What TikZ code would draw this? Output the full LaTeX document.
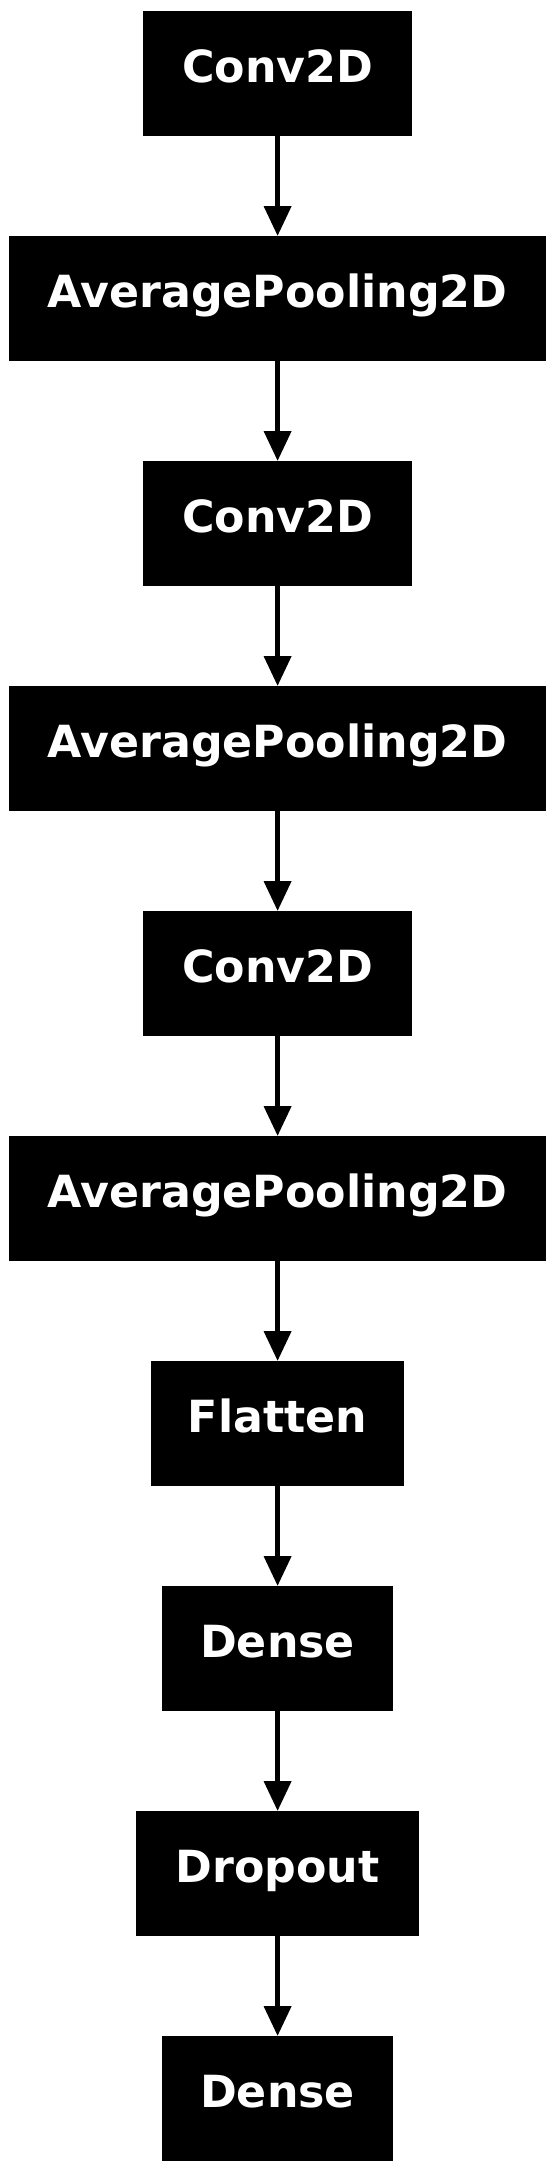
\documentclass[tikz,border=0pt]{standalone}
\usepackage{fontspec}
\newfontfamily\dvsans{DejaVu Sans}
\usetikzlibrary{arrows.meta}
\tikzset{
  layer/.style={fill=black, draw=none, inner sep=0pt, outer sep=0pt, anchor=north,
    text=white, font=\dvsans\bfseries\fontsize{44.3}{52}\selectfont,
    text height=71pt, text depth=54pt, align=center},
  link/.style={line width=5pt, -{Triangle[width=26.7pt,length=30pt]}}
}
\begin{document}
\begin{tikzpicture}[x=1pt,y=1pt]
\useasboundingbox (0,0) rectangle (556,-2172);
\node[layer, minimum width=269.7pt] (n1) at (277.6,-11) {Conv2D};
\node[layer, minimum width=536.4pt] (n2) at (277.6,-236) {AveragePooling2D};
\node[layer, minimum width=269.7pt] (n3) at (277.6,-461) {Conv2D};
\node[layer, minimum width=536.4pt] (n4) at (277.6,-686) {AveragePooling2D};
\node[layer, minimum width=269.7pt] (n5) at (277.6,-911) {Conv2D};
\node[layer, minimum width=536.4pt] (n6) at (277.6,-1136) {AveragePooling2D};
\node[layer, minimum width=253.3pt] (n7) at (277.6,-1361) {Flatten};
\node[layer, minimum width=230.5pt] (n8) at (277.6,-1586) {Dense};
\node[layer, minimum width=283.3pt] (n9) at (277.6,-1811) {Dropout};
\node[layer, minimum width=230.5pt] (n10) at (277.6,-2036) {Dense};
\draw[link] (n1.south) -- (n2.north);
\draw[link] (n2.south) -- (n3.north);
\draw[link] (n3.south) -- (n4.north);
\draw[link] (n4.south) -- (n5.north);
\draw[link] (n5.south) -- (n6.north);
\draw[link] (n6.south) -- (n7.north);
\draw[link] (n7.south) -- (n8.north);
\draw[link] (n8.south) -- (n9.north);
\draw[link] (n9.south) -- (n10.north);
\end{tikzpicture}
\end{document}
